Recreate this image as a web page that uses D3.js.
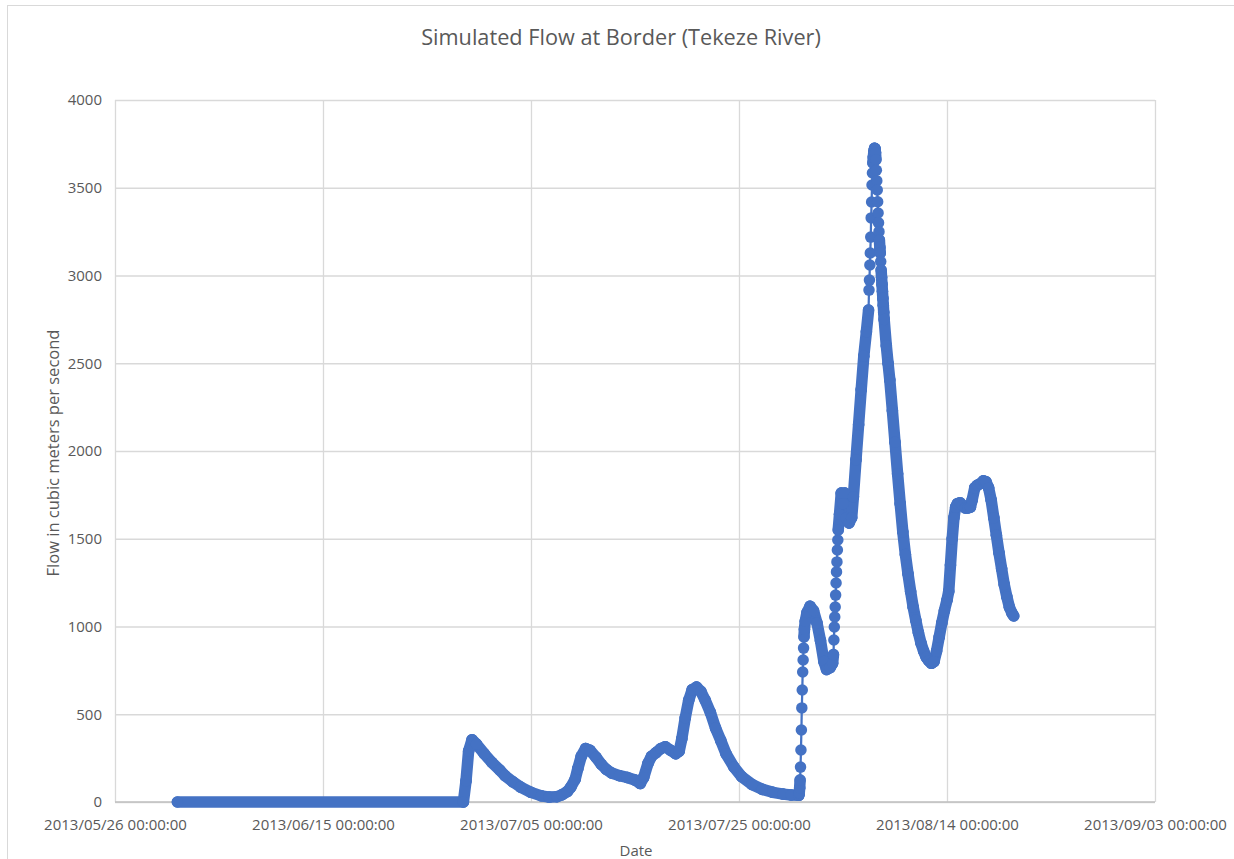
<!DOCTYPE html>
<html>
<head>
<meta charset="utf-8">
<script src="https://cdn.jsdelivr.net/npm/d3@7"></script>
<style>
  html, body { margin: 0; padding: 0; background: #ffffff; }
  svg { display: block; }
  text { font-family: "Open Sans", "Noto Sans", sans-serif; fill: #595959; }
</style>
</head>
<body>
<svg id="chart" width="1234" height="859"></svg>
<script>
// Hourly simulated discharge at the border gauge (m³/s)
const times = [
  "2013-06-01 00:00","2013-06-28 12:00","2013-06-28 18:00","2013-06-29 00:00","2013-06-29 08:00",
  "2013-06-29 18:00","2013-06-30 12:00","2013-07-01 06:00","2013-07-02 00:00","2013-07-02 12:00",
  "2013-07-03 06:00","2013-07-04 00:00","2013-07-05 00:00","2013-07-06 00:00","2013-07-06 18:00",
  "2013-07-07 12:00","2013-07-08 00:00","2013-07-08 12:00","2013-07-08 20:00","2013-07-09 06:00",
  "2013-07-09 12:00","2013-07-09 20:00","2013-07-10 06:00","2013-07-10 16:00","2013-07-11 06:00",
  "2013-07-11 18:00","2013-07-12 06:00","2013-07-12 18:00","2013-07-13 12:00","2013-07-14 06:00",
  "2013-07-15 00:00","2013-07-15 12:00","2013-07-15 20:00","2013-07-16 06:00","2013-07-16 14:00",
  "2013-07-17 00:00","2013-07-17 12:00","2013-07-17 22:00","2013-07-18 10:00","2013-07-18 22:00",
  "2013-07-19 06:00","2013-07-19 12:00","2013-07-19 20:00","2013-07-20 04:00","2013-07-20 12:00",
  "2013-07-20 22:00","2013-07-21 08:00","2013-07-21 18:00","2013-07-22 06:00","2013-07-22 18:00",
  "2013-07-23 06:00","2013-07-23 18:00","2013-07-24 12:00","2013-07-25 06:00","2013-07-26 06:00",
  "2013-07-27 06:00","2013-07-28 06:00","2013-07-29 06:00","2013-07-30 00:00","2013-07-30 18:00",
  "2013-07-30 19:00","2013-07-30 20:00","2013-07-30 21:00","2013-07-30 22:00","2013-07-30 23:00",
  "2013-07-31 00:00","2013-07-31 01:00","2013-07-31 02:00","2013-07-31 03:00","2013-07-31 04:00",
  "2013-07-31 05:00","2013-07-31 06:00","2013-07-31 07:00","2013-07-31 09:00","2013-07-31 13:00",
  "2013-07-31 20:00","2013-08-01 04:00","2013-08-01 12:00","2013-08-01 20:00","2013-08-02 04:00",
  "2013-08-02 10:00","2013-08-02 18:00","2013-08-03 00:00","2013-08-03 02:00","2013-08-03 03:00",
  "2013-08-03 04:00","2013-08-03 05:00","2013-08-03 06:00","2013-08-03 07:00","2013-08-03 08:00",
  "2013-08-03 09:00","2013-08-03 10:00","2013-08-03 11:00","2013-08-03 12:00","2013-08-03 13:00",
  "2013-08-03 16:00","2013-08-03 20:00","2013-08-04 00:00","2013-08-04 04:00","2013-08-04 08:00",
  "2013-08-04 14:00","2013-08-04 20:00","2013-08-05 00:00","2013-08-05 06:00","2013-08-05 12:00",
  "2013-08-05 18:00","2013-08-06 00:00","2013-08-06 06:00","2013-08-06 11:00","2013-08-06 12:00",
  "2013-08-06 13:00","2013-08-06 14:00","2013-08-06 15:00","2013-08-06 16:00","2013-08-06 17:00",
  "2013-08-06 18:00","2013-08-06 19:00","2013-08-06 20:00","2013-08-06 21:00","2013-08-06 22:00",
  "2013-08-06 23:00","2013-08-07 00:00","2013-08-07 01:00","2013-08-07 02:00","2013-08-07 03:00",
  "2013-08-07 04:00","2013-08-07 05:00","2013-08-07 06:00","2013-08-07 07:00","2013-08-07 08:00",
  "2013-08-07 09:00","2013-08-07 10:00","2013-08-07 11:00","2013-08-07 12:00","2013-08-07 13:00",
  "2013-08-07 14:00","2013-08-07 15:00","2013-08-07 16:00","2013-08-07 17:00","2013-08-07 18:00",
  "2013-08-07 19:00","2013-08-07 20:00","2013-08-07 21:00","2013-08-07 22:00","2013-08-07 23:00",
  "2013-08-08 04:00","2013-08-08 08:00","2013-08-08 12:00","2013-08-08 18:00",
  "2013-08-09 00:00","2013-08-09 06:00","2013-08-09 12:00","2013-08-09 18:00","2013-08-10 00:00",
  "2013-08-10 06:00","2013-08-10 12:00","2013-08-10 18:00","2013-08-11 00:00","2013-08-11 06:00",
  "2013-08-11 12:00","2013-08-11 18:00","2013-08-12 00:00","2013-08-12 06:00","2013-08-12 12:00",
  "2013-08-12 18:00","2013-08-13 00:00","2013-08-13 06:00","2013-08-13 12:00","2013-08-13 18:00",
  "2013-08-14 00:00","2013-08-14 04:00","2013-08-14 08:00","2013-08-14 12:00","2013-08-14 16:00",
  "2013-08-14 20:00","2013-08-15 00:00","2013-08-15 06:00","2013-08-15 12:00","2013-08-15 18:00",
  "2013-08-16 00:00","2013-08-16 06:00","2013-08-16 10:00","2013-08-16 16:00","2013-08-16 22:00",
  "2013-08-17 06:00","2013-08-17 12:00","2013-08-17 18:00","2013-08-18 00:00","2013-08-18 06:00",
  "2013-08-18 12:00","2013-08-18 18:00","2013-08-19 00:00","2013-08-19 06:00","2013-08-19 12:00",
  "2013-08-19 18:00","2013-08-20 00:00","2013-08-20 06:00","2013-08-20 10:00"
];
const flows = [
  0,0,120,290,355,
  330,275,225,182,150,
  115,85,55,35,28,
  30,42,60,85,130,
  190,260,305,295,255,
  215,185,165,150,140,
  125,105,140,220,260,
  280,305,315,295,275,
  290,360,480,580,640,
  655,630,580,510,420,
  350,275,200,145,100,
  72,55,45,40,38,
  51,80,125,199,296,
  410,536,638,741,809,
  877,940,985,1030,1080,
  1115,1090,1020,920,800,
  755,765,790,840,923,
  997,1054,1111,1179,1248,
  1311,1368,1436,1493,1550,
  1640,1760,1700,1760,1620,
  1590,1620,1740,1950,2150,
  2350,2540,2680,2803,2917,
  2974,3060,3128,3219,3328,
  3419,3516,3584,3641,3675,
  3700,3715,3725,3722,3700,
  3660,3600,3540,3487,3420,
  3356,3300,3250,3202,3160,
  3128,3080,3031,2990,2950,
  2910,2870,2830,2790,2750,
  2600,2500,2405,2230,
  2050,1870,1700,1540,1410,
  1300,1200,1110,1035,965,
  905,860,825,805,790,
  800,860,940,1020,1090,
  1150,1200,1350,1500,1620,
  1680,1700,1705,1690,1675,
  1675,1680,1720,1790,1805,
  1815,1830,1825,1790,1720,
  1620,1520,1420,1330,1240,
  1170,1110,1075,1060
];

const xTickLabels = [
  "2013/05/26 00:00:00","2013/06/15 00:00:00","2013/07/05 00:00:00",
  "2013/07/25 00:00:00","2013/08/14 00:00:00","2013/09/03 00:00:00"
];
const yTicks = [0, 500, 1000, 1500, 2000, 2500, 3000, 3500, 4000];

const titleText = "Simulated Flow at Border (Tekeze River)";
const xTitle = "Date";
const yTitle = "Flow in cubic meters per second";

const seriesColor = "#4472C4";
const gridColor = "#d9d9d9";
const markerR = 5.75;

const svg = d3.select("#chart");
const W = 1234, H = 859;

// outer chart frame
svg.append("rect")
  .attr("x", 7.5).attr("y", 5.5)
  .attr("width", W + 20).attr("height", H + 20)
  .attr("fill", "#ffffff").attr("stroke", "#d9d9d9").attr("stroke-width", 1);

const plot = { left: 115, right: 1155, top: 100, bottom: 802 };

const parseTick = d3.utcParse("%Y/%m/%d %H:%M:%S");
const parseTime = d3.utcParse("%Y-%m-%d %H:%M");
const tickDates = xTickLabels.map(parseTick);

const x = d3.scaleUtc()
  .domain([tickDates[0], tickDates[tickDates.length - 1]])
  .range([plot.left, plot.right]);
const y = d3.scaleLinear()
  .domain([0, 4000])
  .range([plot.bottom, plot.top]);

const tickFont = "15px";

// horizontal gridlines + y labels
const yAxis = d3.axisLeft(y)
  .tickValues(yTicks)
  .tickSize(-(plot.right - plot.left))
  .tickPadding(13)
  .tickFormat(d3.format("d"));
const gy = svg.append("g")
  .attr("transform", `translate(${plot.left},0)`)
  .call(yAxis);
gy.select(".domain").remove();
gy.selectAll(".tick line").attr("stroke", gridColor).attr("stroke-width", 1.3);
gy.selectAll(".tick text")
  .attr("fill", "#595959")
  .style("font-size", tickFont)
  .style("font-family", "'Open Sans', sans-serif");

// vertical gridlines + date labels
const xAxis = d3.axisBottom(x)
  .tickValues(tickDates)
  .tickSize(-(plot.bottom - plot.top))
  .tickPadding(17)
  .tickFormat((d, i) => xTickLabels[i]);
const gx = svg.append("g")
  .attr("transform", `translate(0,${plot.bottom})`)
  .call(xAxis);
gx.select(".domain").remove();
gx.selectAll(".tick line").attr("stroke", gridColor).attr("stroke-width", 1.3);
gx.selectAll(".tick text")
  .attr("fill", "#595959")
  .style("font-size", tickFont)
  .style("font-family", "'Open Sans', sans-serif");

// horizontal axis line
svg.append("line")
  .attr("x1", plot.left).attr("x2", plot.right)
  .attr("y1", y(0)).attr("y2", y(0))
  .attr("stroke", "#bfbfbf").attr("stroke-width", 1.5);

// series: each sample is a marker; consecutive markers that sit closer than
// about one marker width per hour merge into a solid band, otherwise a thin line joins them
const pts = times.map((t, i) => ({ t: parseTime(t), v: flows[i] }))
  .map(d => ({ ...d, px: x(d.t), py: y(d.v) }));

const segs = [];
for (let i = 1; i < pts.length; i++) {
  const a = pts[i - 1], b = pts[i];
  const hours = (b.t - a.t) / 3600000;
  const dist = Math.hypot(b.px - a.px, b.py - a.py);
  segs.push({ a, b, dense: dist / hours < 8 });
}

const gs = svg.append("g");
gs.selectAll("line.thin")
  .data(segs.filter(s => !s.dense))
  .join("line")
  .attr("class", "thin")
  .attr("x1", s => s.a.px).attr("y1", s => s.a.py)
  .attr("x2", s => s.b.px).attr("y2", s => s.b.py)
  .attr("stroke", seriesColor).attr("stroke-width", 2.25);

gs.selectAll("line.band")
  .data(segs.filter(s => s.dense))
  .join("line")
  .attr("class", "band")
  .attr("x1", s => s.a.px).attr("y1", s => s.a.py)
  .attr("x2", s => s.b.px).attr("y2", s => s.b.py)
  .attr("stroke", seriesColor).attr("stroke-width", markerR * 2)
  .attr("stroke-linecap", "round");

gs.selectAll("circle")
  .data(pts)
  .join("circle")
  .attr("cx", d => d.px).attr("cy", d => d.py)
  .attr("r", markerR)
  .attr("fill", seriesColor);

// titles
svg.append("text")
  .attr("x", 621).attr("y", 45)
  .attr("text-anchor", "middle")
  .style("font-size", "21.7px")
  .text(titleText);

svg.append("text")
  .attr("x", 636).attr("y", 856)
  .attr("text-anchor", "middle")
  .style("font-size", tickFont)
  .text(xTitle);

svg.append("text")
  .attr("transform", "translate(59,453) rotate(-90)")
  .attr("text-anchor", "middle")
  .style("font-size", "16.5px")
  .text(yTitle);
</script>
</body>
</html>
